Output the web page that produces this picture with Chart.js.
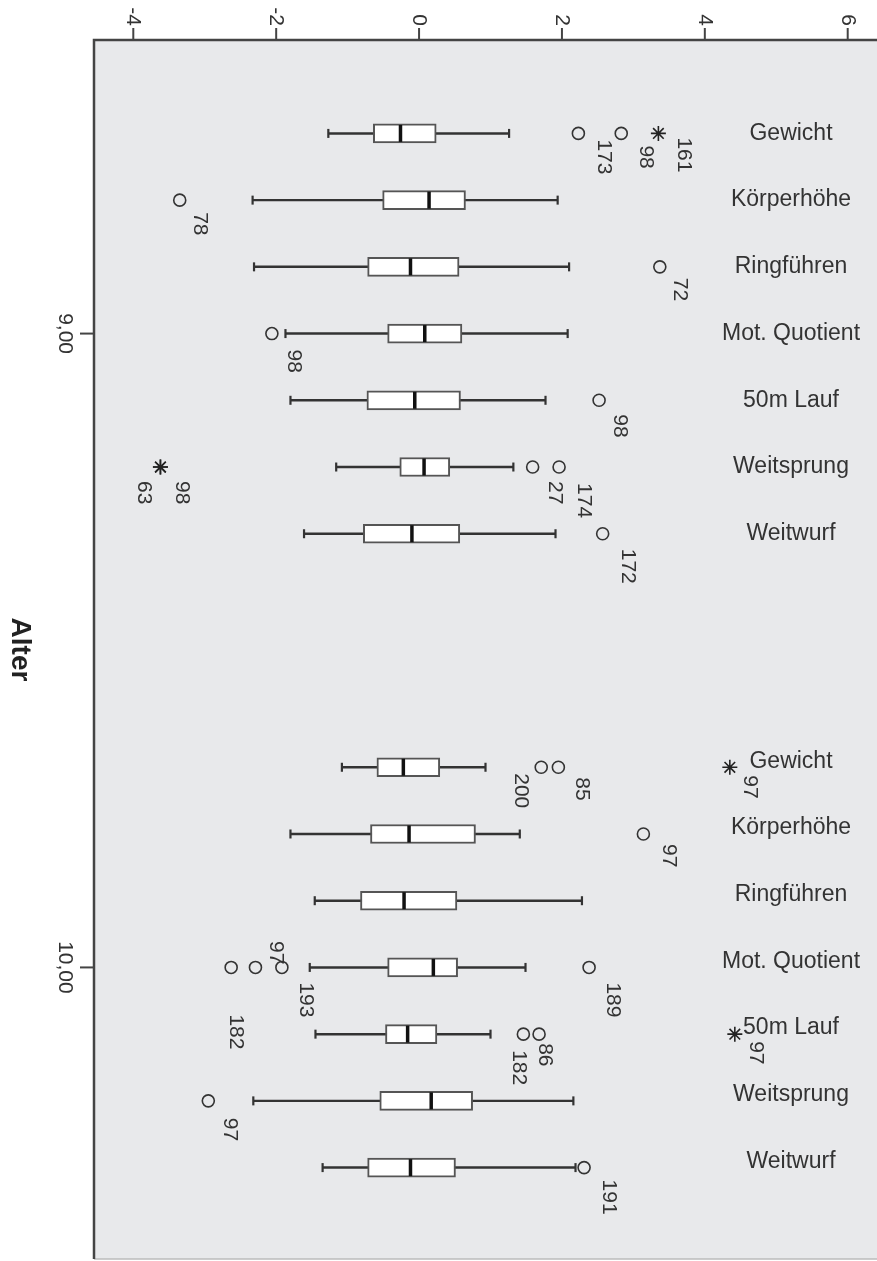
<!DOCTYPE html>
<html>
<head>
<meta charset="utf-8">
<script src="https://cdn.jsdelivr.net/npm/chart.js@4/dist/chart.umd.min.js"></script>
<style>
  html, body { margin: 0; padding: 0; background: #fff; overflow: hidden; }
  canvas { display: block; }
</style>
</head>
<body>
<canvas id="canvas" width="877" height="1261"></canvas>
<script>
/* Groups (Alter) and variables, top to bottom. */
const groups = ["9,00", "10,00"]
const variables = ["Gewicht", "Körperhöhe", "Ringführen", "Mot. Quotient", "50m Lauf", "Weitsprung", "Weitwurf"]
const valueTicks = [-4, -2, 0, 2, 4, 6]

/* Box statistics, Alter 9,00. */
const lowWhisker9 = [-1.27, -2.33, -2.31, -1.87, -1.80, -1.16, -1.61]
const lowerQuartile9 = [-0.64, -0.51, -0.72, -0.44, -0.73, -0.27, -0.78]
const median9 = [-0.26, 0.14, -0.12, 0.08, -0.06, 0.07, -0.10]
const upperQuartile9 = [0.24, 0.65, 0.56, 0.60, 0.58, 0.43, 0.57]
const highWhisker9 = [1.26, 1.94, 2.10, 2.08, 1.77, 1.32, 1.91]

/* Box statistics, Alter 10,00. */
const lowWhisker10 = [-1.08, -1.80, -1.46, -1.53, -1.45, -2.32, -1.35]
const lowerQuartile10 = [-0.59, -0.68, -0.82, -0.44, -0.47, -0.55, -0.72]
const median10 = [-0.22, -0.14, -0.21, 0.20, -0.16, 0.17, -0.12]
const upperQuartile10 = [0.29, 0.79, 0.53, 0.54, 0.25, 0.75, 0.51]
const highWhisker10 = [0.93, 1.41, 2.28, 1.49, 1.00, 2.16, 2.19]

/* Outliers (circles) and extremes (stars): [variable index, value, case number]. */
const outliers9 = [[0, 2.23, "173"], [0, 2.83, "98"], [1, -3.35, "78"], [2, 3.37, "72"], [3, -2.06, "98"],
  [4, 2.52, "98"], [5, 1.59, "27"], [5, 1.96, "174"], [6, 2.57, "172"]]
const extremes9 = [[0, 3.35, "161"], [5, -3.62, "98"], [5, -3.62, "63"]]
const outliers10 = [[0, 1.71, "200"], [0, 1.95, "85"], [1, 3.14, "97"], [3, -2.63, "182"], [3, -2.29, "193"],
  [3, -1.92, "97"], [3, 2.38, "189"], [4, 1.46, "182"], [4, 1.68, "86"], [5, -2.95, "97"], [6, 2.31, "191"]]
const extremes10 = [[0, 4.35, "97"], [4, 4.42, "97"]]

/* Where each case label sits relative to its marker, in px (same order as above). */
const outlierShift9 = [[25, 6], [25, 12], [20, 12], [20, 11], [22, 16], [21, 14], [22, 14], [25, 16], [25, 15]]
const extremeShift9 = [[25, 4], [21, 14], [-17, 14]]
const outlierShift10 = [[-20, 6], [23, 10], [25, 10], [5, 47], [50, 15], [-6, -3], [24, 15], [-5, 16], [6, 9], [21, 17], [25, 12]]
const extremeShift10 = [[20, 8], [21, 7]]
/* Vertical nudge of the variable names per group, in px. */
const nameShift = [0, -6]

const FONT = "'Liberation Sans', Arial, sans-serif"
const TEXT = "#333"

/* Position of a variable on the category axis, the second group sits 9.5 slots further down. */
const slot = (g, i) => g * 9.5 + i

const stats = [
  [lowWhisker9, lowerQuartile9, median9, upperQuartile9, highWhisker9],
  [lowWhisker10, lowerQuartile10, median10, upperQuartile10, highWhisker10]
]
const outlierSets = [[outliers9, outlierShift9], [outliers10, outlierShift10]]
const extremeSets = [[extremes9, extremeShift9], [extremes10, extremeShift10]]

const whiskerData = []
const boxData = []
const capData = []
const medianData = []
stats.forEach(([lo, q1, med, q3, hi], g) => {
  variables.forEach((name, i) => {
    const y = slot(g, i)
    whiskerData.push({ y, x: [lo[i], hi[i]] })
    boxData.push({ y, x: [q1[i], q3[i]] })
    capData.push({ x: lo[i], y }, { x: hi[i], y })
    medianData.push({ x: med[i], y })
  })
})

const outlierData = []
const extremeData = []
outlierSets.forEach(([list, shift], g) => {
  list.forEach((o, k) => outlierData.push({ x: o[1], y: slot(g, o[0]), id: o[2], shift: shift[k] }))
})
extremeSets.forEach(([list, shift], g) => {
  list.forEach((o, k) => extremeData.push({ x: o[1], y: slot(g, o[0]), id: o[2], shift: shift[k] }))
})

/* Plugin for background, axes and all the text. */
const framePlugin = {
  id: "frame",
  beforeDraw: chart => {
    const { ctx, chartArea: a } = chart
    ctx.save()
    ctx.fillStyle = "#fff"
    ctx.fillRect(0, 0, chart.width, chart.height)
    ctx.fillStyle = "#e8e9eb"
    ctx.fillRect(a.left, a.top, a.right - a.left, a.bottom - a.top)
    ctx.restore()
  },
  afterDatasetsDraw: chart => {
    const { ctx, chartArea: a, scales } = chart
    const xs = scales.x
    const ys = scales.y
    ctx.save()

    /* Frame lines. */
    ctx.strokeStyle = "#bbb"
    ctx.lineWidth = 1.5
    ctx.beginPath()
    ctx.moveTo(a.left, a.bottom)
    ctx.lineTo(a.right, a.bottom)
    ctx.stroke()
    ctx.strokeStyle = "#444"
    ctx.lineWidth = 2.5
    ctx.beginPath()
    ctx.moveTo(a.right, a.top)
    ctx.lineTo(a.left, a.top)
    ctx.lineTo(a.left, a.bottom)
    ctx.stroke()

    /* Value axis along the top, labels turned a quarter. */
    ctx.fillStyle = TEXT
    ctx.font = "21px " + FONT
    ctx.lineWidth = 2
    valueTicks.forEach(v => {
      const x = xs.getPixelForValue(v)
      ctx.beginPath()
      ctx.moveTo(x, a.top - 12)
      ctx.lineTo(x, a.top)
      ctx.stroke()
      ctx.save()
      ctx.translate(x, a.top - 14)
      ctx.rotate(Math.PI / 2)
      ctx.textAlign = "right"
      ctx.textBaseline = "middle"
      ctx.fillText(String(v), 0, 0)
      ctx.restore()
    })

    /* Group axis on the left. */
    groups.forEach((name, g) => {
      const y = ys.getPixelForValue(slot(g, 3))
      ctx.beginPath()
      ctx.moveTo(a.left - 14, y)
      ctx.lineTo(a.left, y)
      ctx.stroke()
      ctx.save()
      ctx.translate(a.left - 29, y)
      ctx.rotate(Math.PI / 2)
      ctx.textAlign = "center"
      ctx.textBaseline = "middle"
      ctx.fillText(name, 0, 0)
      ctx.restore()
    })

    ctx.save()
    ctx.translate(20, (a.top + a.bottom) / 2)
    ctx.rotate(Math.PI / 2)
    ctx.font = "bold 28px " + FONT
    ctx.fillStyle = "#222"
    ctx.textAlign = "center"
    ctx.textBaseline = "middle"
    ctx.fillText("Alter", 0, 0)
    ctx.restore()

    /* Variable names inside the plot. */
    ctx.font = "23px " + FONT
    ctx.textAlign = "center"
    ctx.textBaseline = "middle"
    groups.forEach((name, g) => {
      variables.forEach((v, i) => {
        ctx.fillText(v, a.right - 86, ys.getPixelForValue(slot(g, i)) + nameShift[g])
      })
    })

    /* Case numbers next to outliers and extremes. */
    ctx.font = "21px " + FONT
    outlierData.concat(extremeData).forEach(p => {
      const [dx, dy] = p.shift
      ctx.save()
      ctx.translate(xs.getPixelForValue(p.x) + dx, ys.getPixelForValue(p.y) + dy)
      ctx.rotate(Math.PI / 2)
      ctx.textAlign = dy < 0 ? "right" : "left"
      ctx.textBaseline = "middle"
      ctx.fillText(p.id, 0, 0)
      ctx.restore()
    })

    ctx.restore()
  }
}

const ctx = document.getElementById("canvas").getContext("2d")
const chart = new Chart(ctx, {
  type: "bar",
  data: {
    datasets: [{
      label: "whisker",
      data: whiskerData,
      backgroundColor: "#333",
      barThickness: 1.8,
      grouped: false,
      order: 4
    }, {
      label: "box",
      data: boxData,
      backgroundColor: "#fff",
      borderColor: "#555",
      borderWidth: 2,
      borderSkipped: false,
      barThickness: 19,
      grouped: false,
      order: 3
    }, {
      type: "scatter",
      label: "cap",
      data: capData,
      pointStyle: "line",
      rotation: 90,
      radius: 4.5,
      borderWidth: 2.2,
      borderColor: "#333",
      order: 2
    }, {
      type: "scatter",
      label: "median",
      data: medianData,
      pointStyle: "line",
      rotation: 90,
      radius: 8.5,
      borderWidth: 3.5,
      borderColor: "#111",
      order: 1
    }, {
      type: "scatter",
      label: "outlier",
      data: outlierData,
      pointStyle: "circle",
      radius: 6,
      borderWidth: 1.6,
      borderColor: "#333",
      backgroundColor: "rgba(0,0,0,0)",
      order: 0
    }, {
      type: "scatter",
      label: "extreme",
      data: extremeData,
      pointStyle: "star",
      radius: 7.5,
      borderWidth: 1.6,
      borderColor: "#222",
      order: 0
    }]
  },
  options: {
    indexAxis: "y",
    responsive: false,
    animation: false,
    devicePixelRatio: 1,
    layout: { autoPadding: false, padding: { left: 94, top: 40, right: 0, bottom: 2 } },
    scales: {
      x: { type: "linear", min: -4.55, max: 6.41, offset: false, display: false },
      y: { type: "linear", min: -1.4, max: 16.87, reverse: true, offset: false, display: false }
    },
    plugins: {
      legend: { display: false },
      tooltip: { enabled: false }
    }
  },
  plugins: [framePlugin]
})
</script>
</body>
</html>
